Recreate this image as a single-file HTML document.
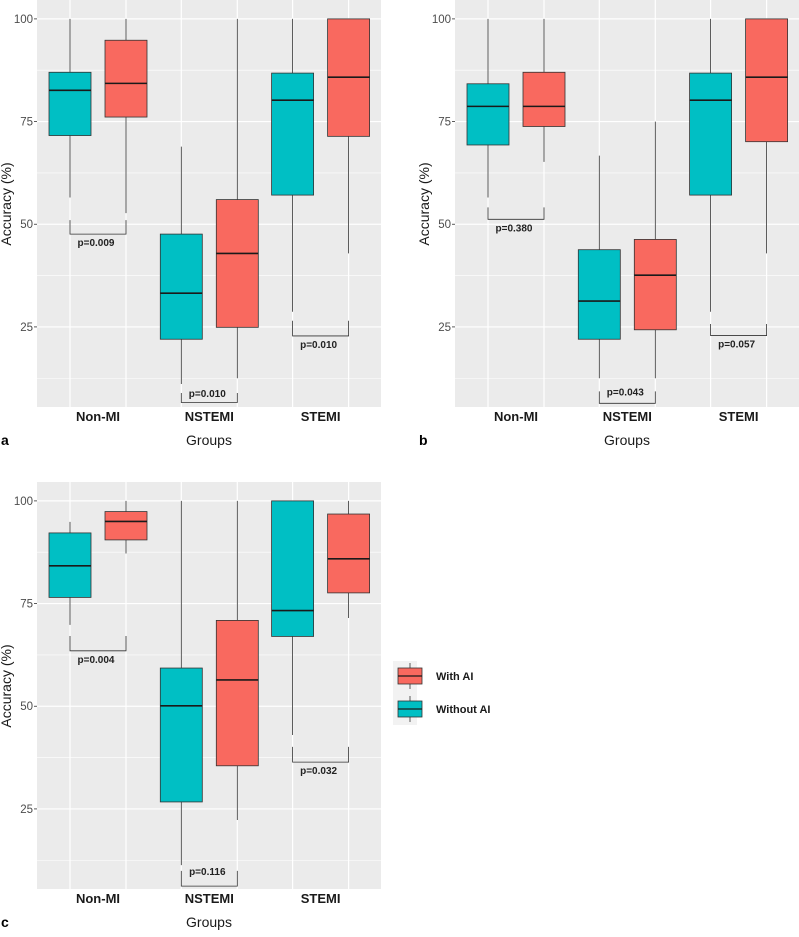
<!DOCTYPE html>
<html><head><meta charset="utf-8"><style>
html,body{margin:0;padding:0;background:#fff}
svg text{font-family:"Liberation Sans","DejaVu Sans",sans-serif}
</style></head><body>
<svg id="chart" width="799" height="932" xmlns="http://www.w3.org/2000/svg"></svg>
<script>
const categories = ["Non-MI","NSTEMI","STEMI"];
const yTicks = [25,50,75,100];
const yTickLabels = ["25","50","75","100"];
// [lower whisker, q1, median, q3, upper whisker]
const aWithout = [[56.5,71.6,82.6,87.0,100],[11.1,22.0,33.2,47.6,68.9],[28.7,57.1,80.2,86.8,100]];
const aWith    = [[52.7,76.1,84.3,94.8,100],[12.5,24.9,42.9,56.0,100],[42.9,71.4,85.8,100,100]];
const aPvals   = ["p=0.009","p=0.010","p=0.010"];
const aBrTop   = [51.0,8.9,26.5];
const aBrBot   = [47.6,6.6,22.8];
const bWithout = [[56.5,69.3,78.7,84.2,100],[12.5,22.0,31.3,43.8,66.7],[28.7,57.1,80.2,86.8,100]];
const bWith    = [[65.2,73.8,78.7,87.0,100],[12.5,24.3,37.6,46.3,75.0],[42.9,70.1,85.8,100,100]];
const bPvals   = ["p=0.380","p=0.043","p=0.057"];
const bBrTop   = [54.1,9.3,25.7];
const bBrBot   = [51.2,6.4,22.9];
const cWithout = [[69.8,76.5,84.2,92.2,94.9],[11.3,26.7,50.1,59.3,100],[43.0,67.0,73.3,100,100]];
const cWith    = [[87.2,90.5,95.0,97.4,100],[22.3,35.5,56.4,70.9,100],[71.5,77.6,85.9,96.8,100]];
const cPvals   = ["p=0.004","p=0.116","p=0.032"];
const cBrTop   = [67.1,9.9,40.1];
const cBrBot   = [63.5,6.2,36.4];

const NS="http://www.w3.org/2000/svg";
const svg=document.getElementById('chart');
const TEAL="#00BFC4", RED="#F9695F";
function mk(tag,attrs,parent){const e=document.createElementNS(NS,tag);for(const k in attrs)e.setAttribute(k,attrs[k]);(parent||svg).appendChild(e);return e;}

function drawPanel(id,ox,oy,letter,without,withAI,pvals,brTop,brBot){
  const g=mk('g',{});
  
  
  const left=37+ox, right=381+ox, top=oy, bottom=407+oy;
  const vmax=104.6, vmin=5.5;
  const y=v=>top+(vmax-v)/(vmax-vmin)*(bottom-top);
  const xc=i=>left+61+i*111.3;
  const bg=mk('rect',{x:left,y:top,width:right-left,height:bottom-top,fill:"#EBEBEB"},g);
  
  
  for(let k=0;k<yTicks.length;k++){
    const mv=yTicks[k]-12.5;
    const mn=mk('line',{x1:left,x2:right,y1:y(mv),y2:y(mv),stroke:"#fff","stroke-width":0.6},g);
    
    
    const gl=mk('line',{x1:left,x2:right,y1:y(yTicks[k]),y2:y(yTicks[k]),stroke:"#fff","stroke-width":1.2},g);
    
    
    const t=mk('text',{x:left-4,y:y(yTicks[k])+4,"text-anchor":"end","font-size":11.5,fill:"#4D4D4D"},g);
    t.textContent=yTickLabels[k];
    
    
    const tm=mk('line',{x1:left-3,x2:left,y1:y(yTicks[k]),y2:y(yTicks[k]),stroke:"#333","stroke-width":0.8},g);
    
    
  }
  for(let i=0;i<categories.length;i++){
    for(const d of [-28,28]){
      const vl=mk('line',{x1:xc(i)+d,x2:xc(i)+d,y1:top,y2:bottom,stroke:"#fff","stroke-width":1.2},g);
      
      
    }
  }
  const series=[[without,TEAL,-28,'without-ai'],[withAI,RED,28,'with-ai']];
  for(let i=0;i<categories.length;i++){
    for(const [data,col,d,nm] of series){
      const s=data[i], cx=xc(i)+d;
      const w=mk('line',{x1:cx,x2:cx,y1:y(s[4]),y2:y(s[0]),stroke:"#333","stroke-width":0.8},g);
      
      
      const b=mk('rect',{x:cx-21,y:y(s[3]),width:42,height:y(s[1])-y(s[3]),fill:col,stroke:"#333","stroke-width":0.8},g);
      
      
      const m=mk('line',{x1:cx-21,x2:cx+21,y1:y(s[2]),y2:y(s[2]),stroke:"#1a1a1a","stroke-width":1.6},g);
      
      
    }
    const x1=xc(i)-28,x2=xc(i)+28;
    const br=mk('path',{d:`M${x1},${y(brTop[i])}V${y(brBot[i])}H${x2}V${y(brTop[i])}`,fill:"none",stroke:"#333","stroke-width":0.8},g);
    
    
    const ly = i===1 ? y(brTop[i])+4 : y(brBot[i])+12;
    const pl=mk('text',{x:xc(i)-2,y:ly,"text-anchor":"middle","font-size":10,"font-weight":"bold",fill:"#222"},g);
    pl.textContent=pvals[i];
    
    
    const xl=mk('text',{x:xc(i),y:bottom+14,"text-anchor":"middle","font-size":13,"font-weight":"bold",fill:"#1a1a1a"},g);
    xl.textContent=categories[i];
    
    
  }
  const xt=mk('text',{x:left+172,y:bottom+38,"text-anchor":"middle","font-size":14,fill:"#1a1a1a"},g);
  xt.textContent="Groups";
  
  
  const yt=mk('text',{x:0,y:0,"text-anchor":"middle","font-size":14,fill:"#1a1a1a",transform:`translate(${ox+11},${oy+204}) rotate(-90)`},g);
  yt.textContent="Accuracy (%)";
  
  
  const lt=mk('text',{x:ox+1,y:bottom+38,"font-size":14,"font-weight":"bold",fill:"#000"},g);
  lt.textContent=letter;
  
  
}
drawPanel('a',0,0,'a',aWithout,aWith,aPvals,aBrTop,aBrBot);
drawPanel('b',418,0,'b',bWithout,bWith,bPvals,bBrTop,bBrBot);
drawPanel('c',0,482,'c',cWithout,cWith,cPvals,cBrTop,cBrBot);

// legend
const lg=mk('g',{});


const lgbg=mk('rect',{x:393,y:661,width:24,height:64,fill:"#F2F2F2"},lg);


const legendItems=[["With AI",RED,668],["Without AI",TEAL,701]];
for(const [lab,col,yy] of legendItems){
  const e=mk('g',{},lg);
  
  
  mk('line',{x1:410,x2:410,y1:yy-5,y2:yy+21,stroke:"#333","stroke-width":0.8},e);
  mk('rect',{x:398,y:yy,width:24,height:16,fill:col,stroke:"#333","stroke-width":0.8},e);
  mk('line',{x1:398,x2:422,y1:yy+8,y2:yy+8,stroke:"#1a1a1a","stroke-width":1.2},e);
  const t=mk('text',{x:436,y:yy+12,"font-size":11,"font-weight":"bold",fill:"#1a1a1a"},e);
  t.textContent=lab;
}
</script>
</body></html>
